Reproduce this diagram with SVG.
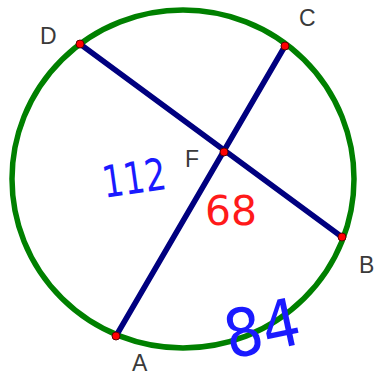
<svg xmlns="http://www.w3.org/2000/svg" width="376" height="376" viewBox="0 0 376 376">
<style>
.lbl{font-family:"Liberation Sans",Arial,sans-serif;font-size:23px;fill:#3a3a3a}
.hand{font-family:"DejaVu Sans","Liberation Sans",sans-serif;stroke-linejoin:round;stroke-linecap:round}
.pt{fill:#ff0000;stroke:#5a0000;stroke-width:1}
.seg{stroke:#00007f;stroke-width:5.5;stroke-linecap:round}
</style>
<rect width="376" height="376" fill="#fff"/>
<g id="circle"><ellipse cx="183" cy="179" rx="171" ry="169" fill="none" stroke="#008000" stroke-width="5.5"/></g>
<g id="connectors">
<line class="seg" x1="80" y1="44" x2="342" y2="237"/>
<line class="seg" x1="285" y1="46" x2="116" y2="336"/>
</g>
<g id="D"><circle class="pt" cx="80" cy="44" r="4"/><text class="lbl" x="40" y="44">D</text></g>
<g id="C"><circle class="pt" cx="285" cy="46" r="4"/><text class="lbl" x="299" y="26">C</text></g>
<g id="F"><circle class="pt" cx="224" cy="152" r="4"/><text class="lbl" x="185" y="167">F</text></g>
<g id="B"><circle class="pt" cx="342" cy="237" r="4"/><text class="lbl" x="359" y="273">B</text></g>
<g id="A"><circle class="pt" cx="116" cy="336" r="4"/><text class="lbl" x="132" y="371">A</text></g>
<g id="notes">
<text class="hand" x="102" y="194" font-size="44" textLength="64" lengthAdjust="spacingAndGlyphs" fill="#1a1aff" transform="rotate(-8 130 178)">112</text>
<text class="hand" x="205" y="225" font-size="40" textLength="52" lengthAdjust="spacingAndGlyphs" fill="#ff1a1a">68</text>
<text class="hand" x="224" y="352" font-size="66" textLength="76" lengthAdjust="spacingAndGlyphs" fill="#1a1aff" transform="rotate(-12 260 328)">84</text>
</g>
</svg>
